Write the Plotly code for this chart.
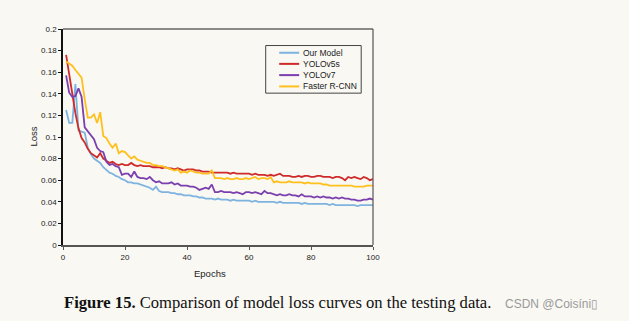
import plotly.graph_objects as go

epochs = list(range(1, 101))

our_model = [
    0.125, 0.113, 0.113, 0.149, 0.106, 0.105, 0.104, 0.090, 0.084, 0.080,
    0.078, 0.076, 0.072, 0.069, 0.067, 0.066, 0.064, 0.063, 0.061, 0.060,
    0.058, 0.058, 0.057, 0.057, 0.056, 0.055, 0.054, 0.053, 0.051, 0.054,
    0.050, 0.049, 0.049, 0.049, 0.048, 0.048, 0.047, 0.047, 0.046, 0.046,
    0.046, 0.045, 0.045, 0.044, 0.044, 0.043, 0.043, 0.043, 0.042, 0.043,
    0.042, 0.042, 0.042, 0.041, 0.042, 0.041, 0.041, 0.041, 0.041, 0.041,
    0.040, 0.041, 0.040, 0.040, 0.040, 0.040, 0.040, 0.040, 0.039, 0.040,
    0.039, 0.039, 0.039, 0.039, 0.039, 0.039, 0.038, 0.039, 0.038, 0.038,
    0.038, 0.038, 0.038, 0.038, 0.038, 0.037, 0.038, 0.037, 0.037, 0.037,
    0.037, 0.037, 0.037, 0.037, 0.036, 0.037, 0.037, 0.037, 0.037, 0.037,
]

yolov5s = [
    0.176, 0.158, 0.138, 0.122, 0.108, 0.099, 0.095, 0.089, 0.085, 0.083,
    0.081, 0.085, 0.080, 0.078, 0.076, 0.077, 0.075, 0.074, 0.075, 0.074,
    0.074, 0.076, 0.074, 0.073, 0.074, 0.073, 0.073, 0.073, 0.072, 0.072,
    0.072, 0.071, 0.072, 0.071, 0.071, 0.070, 0.071, 0.070, 0.069, 0.070,
    0.070, 0.070, 0.069, 0.069, 0.068, 0.068, 0.068, 0.067, 0.067, 0.067,
    0.067, 0.067, 0.067, 0.066, 0.067, 0.066, 0.066, 0.066, 0.066, 0.066,
    0.065, 0.066, 0.065, 0.065, 0.065, 0.064, 0.065, 0.064, 0.065, 0.066,
    0.064, 0.064, 0.064, 0.063, 0.063, 0.064, 0.063, 0.064, 0.064, 0.063,
    0.063, 0.064, 0.064, 0.063, 0.063, 0.063, 0.062, 0.063, 0.063, 0.062,
    0.060, 0.063, 0.062, 0.063, 0.062, 0.061, 0.063, 0.062, 0.060, 0.061,
]

yolov7 = [
    0.157, 0.141, 0.137, 0.138, 0.145, 0.137, 0.109, 0.105, 0.101, 0.098,
    0.090, 0.087, 0.086, 0.077, 0.074, 0.075, 0.073, 0.072, 0.065, 0.066,
    0.066, 0.063, 0.068, 0.063, 0.062, 0.062, 0.061, 0.063, 0.060, 0.058,
    0.059, 0.057, 0.057, 0.057, 0.058, 0.056, 0.057, 0.055, 0.055, 0.055,
    0.054, 0.054, 0.053, 0.051, 0.052, 0.053, 0.052, 0.056, 0.049, 0.049,
    0.050, 0.049, 0.049, 0.049, 0.048, 0.049, 0.048, 0.047, 0.049, 0.049,
    0.048, 0.049, 0.048, 0.047, 0.050, 0.048, 0.048, 0.047, 0.046, 0.047,
    0.046, 0.046, 0.047, 0.046, 0.046, 0.045, 0.047, 0.045, 0.045, 0.045,
    0.044, 0.045, 0.044, 0.045, 0.044, 0.044, 0.043, 0.044, 0.043, 0.044,
    0.043, 0.043, 0.042, 0.042, 0.041, 0.041, 0.042, 0.042, 0.043, 0.042,
]

faster_rcnn = [
    0.170, 0.168, 0.166, 0.162, 0.158, 0.155, 0.135, 0.118, 0.118, 0.121,
    0.113, 0.123, 0.101, 0.099, 0.094, 0.090, 0.094, 0.085, 0.087, 0.086,
    0.083, 0.080, 0.082, 0.079, 0.078, 0.077, 0.076, 0.076, 0.074, 0.074,
    0.073, 0.073, 0.072, 0.071, 0.070, 0.069, 0.070, 0.067, 0.068, 0.067,
    0.069, 0.068, 0.067, 0.067, 0.066, 0.066, 0.066, 0.069, 0.062, 0.062,
    0.062, 0.061, 0.062, 0.061, 0.061, 0.062, 0.061, 0.061, 0.062, 0.061,
    0.062, 0.063, 0.061, 0.062, 0.062, 0.061, 0.063, 0.058, 0.059, 0.058,
    0.058, 0.058, 0.059, 0.058, 0.058, 0.058, 0.058, 0.057, 0.058, 0.057,
    0.057, 0.057, 0.057, 0.056, 0.056, 0.055, 0.055, 0.055, 0.055, 0.055,
    0.055, 0.055, 0.055, 0.054, 0.054, 0.054, 0.054, 0.055, 0.055, 0.055,
]

series_names = ["Our Model", "YOLOv5s", "YOLOv7", "Faster R-CNN"]
series_values = [our_model, yolov5s, yolov7, faster_rcnn]
series_colors = ["#7eb3e0", "#cf2b2b", "#7b3fae", "#ffc01e"]

y_ticks = [0, 0.02, 0.04, 0.06, 0.08, 0.1, 0.12, 0.14, 0.16, 0.18, 0.2]
y_tick_labels = ["0", "0.02", "0.04", "0.06", "0.08", "0.1", "0.12", "0.14", "0.16", "0.18", "0.2"]
x_ticks = [0, 20, 40, 60, 80, 100]

bg = "#f9f8f3"
tick_font = dict(family="Liberation Sans", size=8, color="#222")

fig = go.Figure()
for name, vals, col in zip(series_names, series_values, series_colors):
    fig.add_trace(go.Scatter(x=epochs, y=vals, mode="lines", name=name,
                             line=dict(color=col, width=1.8), showlegend=False))

# Plot-domain geometry (pixels) for placing the boxed legend and labels
L, R, T, B = 63.3, 373.3, 29.0, 244.5
px = lambda x: (x - L) / (R - L)
py = lambda y: (B - y) / (B - T)

shapes = [
    # top and right frame lines
    dict(type="line", xref="paper", yref="paper", x0=0, x1=1, y0=1, y1=1,
         line=dict(color="#8a8a86", width=2.2)),
    dict(type="line", xref="paper", yref="paper", x0=1, x1=1, y0=0, y1=1,
         line=dict(color="#555", width=1.2)),
    # legend box
    dict(type="rect", xref="paper", yref="paper", x0=px(266), x1=px(361.5),
         y0=py(93), y1=py(45.5), line=dict(color="#444", width=1), fillcolor=bg),
]
annotations = []
legend_rows = [52.7, 63.8, 75.0, 86.3]
for name, col, yy in zip(series_names, series_colors, legend_rows):
    shapes.append(dict(type="line", xref="paper", yref="paper", x0=px(279.5), x1=px(299.5),
                       y0=py(yy), y1=py(yy), line=dict(color=col, width=2)))
    annotations.append(dict(text=name, xref="paper", yref="paper", x=px(301.5), y=py(yy),
                            xanchor="left", yanchor="middle", showarrow=False,
                            font=dict(family="Liberation Sans", size=8.5, color="#222")))

annotations += [
    dict(text="Loss", xref="paper", yref="paper", x=px(34), y=py(136.5), textangle=-90,
         showarrow=False, xanchor="center", yanchor="middle",
         font=dict(family="Liberation Sans", size=9.5, color="#222")),
    dict(text="Epochs", xref="paper", yref="paper", x=px(210), y=py(272.5),
         showarrow=False, xanchor="center", yanchor="middle",
         font=dict(family="Liberation Sans", size=9.5, color="#222")),
    dict(text="<b>Figure 15.</b> Comparison of model loss curves on the testing data.",
         xref="paper", yref="paper", x=px(62), y=py(302), showarrow=False,
         xanchor="left", yanchor="middle",
         font=dict(family="Liberation Serif", size=16.6, color="#111")),
    dict(text="CSDN @Coisíni\u25af", xref="paper", yref="paper", x=px(503), y=py(303),
         showarrow=False, xanchor="left", yanchor="middle",
         font=dict(family="Liberation Sans", size=12, color="#9a9a9a")),
]

fig.update_layout(
    width=629, height=321,
    margin=dict(l=63, r=256, t=29, b=76, pad=0),
    paper_bgcolor=bg, plot_bgcolor=bg,
    shapes=shapes, annotations=annotations,
    xaxis=dict(range=[0, 100], tickvals=x_ticks, showgrid=False, zeroline=False,
               showline=True, linecolor="#555", linewidth=2,
               ticks="outside", ticklen=3, tickcolor="#555", tickfont=tick_font),
    yaxis=dict(range=[0, 0.2], tickvals=y_ticks, ticktext=y_tick_labels,
               showgrid=False, zeroline=False, showline=True, linecolor="#111",
               linewidth=1.5, ticks="outside", ticklen=3, tickcolor="#111",
               tickfont=tick_font),
)

fig.write_html("out.html")
